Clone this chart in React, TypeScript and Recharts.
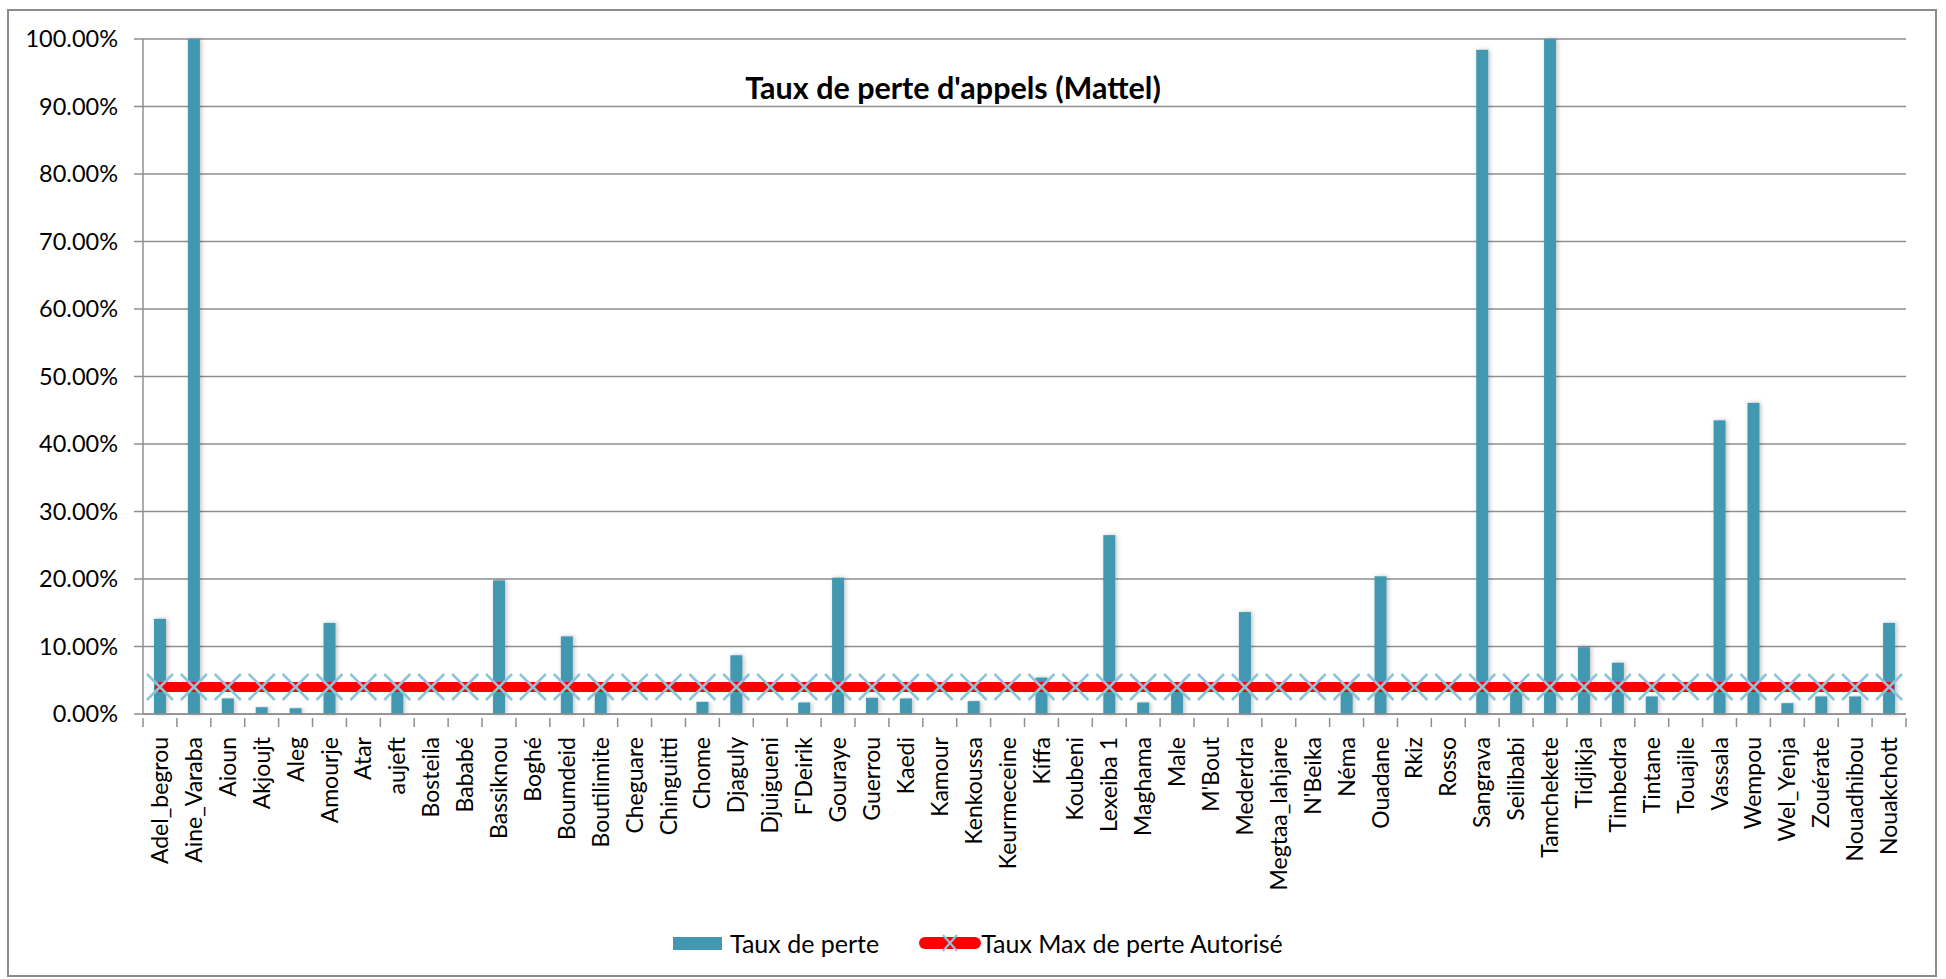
import { ComposedChart, Bar, Line, XAxis, YAxis, CartesianGrid } from 'recharts';

const categories = [
  'Adel_begrou', 'Aine_Varaba', 'Aioun', 'Akjoujt', 'Aleg', 'Amourje', 'Atar', 'aujeft', 'Bosteila', 'Bababé',
  'Bassiknou', 'Boghé', 'Boumdeid', 'Boutilimite', 'Cheguare', 'Chinguitti', 'Chome', 'Djaguly', 'Djuigueni', "F'Deirik",
  'Gouraye', 'Guerrou', 'Kaedi', 'Kamour', 'Kenkoussa', 'Keurmeceine', 'Kiffa', 'Koubeni', 'Lexeiba 1', 'Maghama',
  'Male', "M'Bout", 'Mederdra', 'Megtaa_lahjare', "N'Beika", 'Néma', 'Ouadane', 'Rkiz', 'Rosso', 'Sangrava',
  'Seilibabi', 'Tamchekete', 'Tidjikja', 'Timbedra', 'Tintane', 'Touajile', 'Vassala', 'Wempou', 'Wel_Yenja', 'Zouérate',
  'Nouadhibou', 'Nouakchott',
];

// taux de perte en %
const tauxPerte = [
  14.1, 100, 2.3, 1.0, 0.85, 13.5, 0, 3.5, 0, 0,
  19.8, 0, 11.5, 3.5, 0, 0, 1.8, 8.7, 0, 1.7,
  20.2, 2.4, 2.3, 0, 1.9, 0, 5.4, 0, 26.5, 1.7,
  3.5, 0, 15.1, 0, 0, 3.5, 20.4, 0, 0, 98.4,
  3.5, 100, 9.9, 7.6, 2.6, 0, 43.5, 46.1, 1.6, 2.6,
  2.6, 13.5,
];

const TAUX_MAX = 4;
const yTicks = [0, 10, 20, 30, 40, 50, 60, 70, 80, 90, 100];

const data = categories.map((site, i) => ({ site, perte: tauxPerte[i], max: TAUX_MAX }));

const FONT = 'Lato, "Open Sans", sans-serif';
const BAR_COLOR = '#4397b1';
const X_COLOR = '#8cc5d8';
const GRID = '#8f8f8f';

const XTick = (props: any) => {
  const { x, y, payload, width, visibleTicksCount, index } = props;
  const step = width / visibleTicksCount;
  return (
    <g>
      <line x1={x - step / 2} y1={y - 4} x2={x - step / 2} y2={y + 5} stroke={GRID} strokeWidth={1.5} />
      {index === visibleTicksCount - 1 && (
        <line x1={x + step / 2} y1={y - 4} x2={x + step / 2} y2={y + 5} stroke={GRID} strokeWidth={1.5} />
      )}
      <text
        x={0}
        y={0}
        dy="0.35em"
        transform={`translate(${x},${y + 15}) rotate(-90)`}
        textAnchor="end"
        fontSize={23}
        fontFamily={FONT}
        fill="#000"
      >
        {payload.value}
      </text>
    </g>
  );
};

const CrossDot = (props: any) => {
  const { cx, cy } = props;
  if (cx == null || cy == null) return null;
  const r = 13;
  return (
    <g>
      <line x1={cx - r} y1={cy - r} x2={cx + r} y2={cy + r} stroke={X_COLOR} strokeWidth={2.5} />
      <line x1={cx - r} y1={cy + r} x2={cx + r} y2={cy - r} stroke={X_COLOR} strokeWidth={2.5} />
    </g>
  );
};

const ShadowBar = (props: any) => {
  const { x, y, width, height } = props;
  if (!height || height <= 0) return null;
  return <rect x={x} y={y} width={width} height={height} fill={BAR_COLOR} filter="url(#barShadow)" />;
};

export default function App() {
  return (
    <div style={{ position: 'absolute', left: 0, top: 0, width: 1946, height: 979, background: '#fff', fontFamily: FONT }}>
      <div
        style={{
          position: 'absolute', left: 7, top: 9, width: 1930, height: 968,
          border: '2px solid #8c8c8c', boxSizing: 'border-box',
        }}
      />
      <div style={{ position: 'absolute', left: 0, top: 0 }}>
        <ComposedChart width={1946} height={979} data={data} margin={{ top: 39, right: 40, left: 0, bottom: 65 }}>
          <defs>
            <filter id="barShadow" x="-50%" y="-5%" width="200%" height="110%">
              <feDropShadow dx="1.5" dy="0" stdDeviation="2" floodColor="#000" floodOpacity="0.25" />
            </filter>
          </defs>
          <CartesianGrid vertical={false} stroke={GRID} strokeWidth={1.5} />
          <XAxis
            dataKey="site"
            interval={0}
            height={200}
            axisLine={{ stroke: GRID, strokeWidth: 1.5 }}
            tickLine={false}
            tick={<XTick />}
          />
          <YAxis
            domain={[0, 100]}
            ticks={yTicks}
            width={143}
            tickSize={9}
            tickMargin={16}
            axisLine={{ stroke: GRID, strokeWidth: 1.5 }}
            tickLine={{ stroke: GRID, strokeWidth: 1.5 }}
            tickFormatter={(v: number) => `${v.toFixed(2)}%`}
            tick={{ fontSize: 23.5, fontFamily: FONT, fill: '#000' }}
          />
          <Bar dataKey="perte" name="Taux de perte" barSize={12} fill={BAR_COLOR} shape={<ShadowBar />} isAnimationActive={false} />
          <Line
            dataKey="max"
            name="Taux Max de perte Autorisé"
            stroke="#ff0000"
            strokeWidth={10}
            strokeLinecap="round"
            dot={<CrossDot />}
            activeDot={false}
            isAnimationActive={false}
          />
        </ComposedChart>
      </div>
      <div
        style={{
          position: 'absolute', left: 0, width: 1906, top: 68, textAlign: 'center',
          fontSize: 30.5, lineHeight: '38px', fontWeight: 700, color: '#000',
        }}
      >
        Taux de perte d'appels (Mattel)
      </div>
      <div style={{ position: 'absolute', left: 673, top: 928, height: 30, display: 'flex', alignItems: 'center', fontSize: 25, color: '#000' }}>
        <span style={{ display: 'inline-block', width: 49, height: 13, background: BAR_COLOR, marginRight: 8 }} />
        <span>Taux de perte</span>
        <svg width={62} height={30} style={{ marginLeft: 40 }}>
          <line x1={6} y1={15} x2={56} y2={15} stroke="#ff0000" strokeWidth={12} strokeLinecap="round" />
          <line x1={24} y1={7} x2={38} y2={23} stroke={X_COLOR} strokeWidth={2} />
          <line x1={24} y1={23} x2={38} y2={7} stroke={X_COLOR} strokeWidth={2} />
        </svg>
        <span>Taux Max de perte Autorisé</span>
      </div>
    </div>
  );
}
